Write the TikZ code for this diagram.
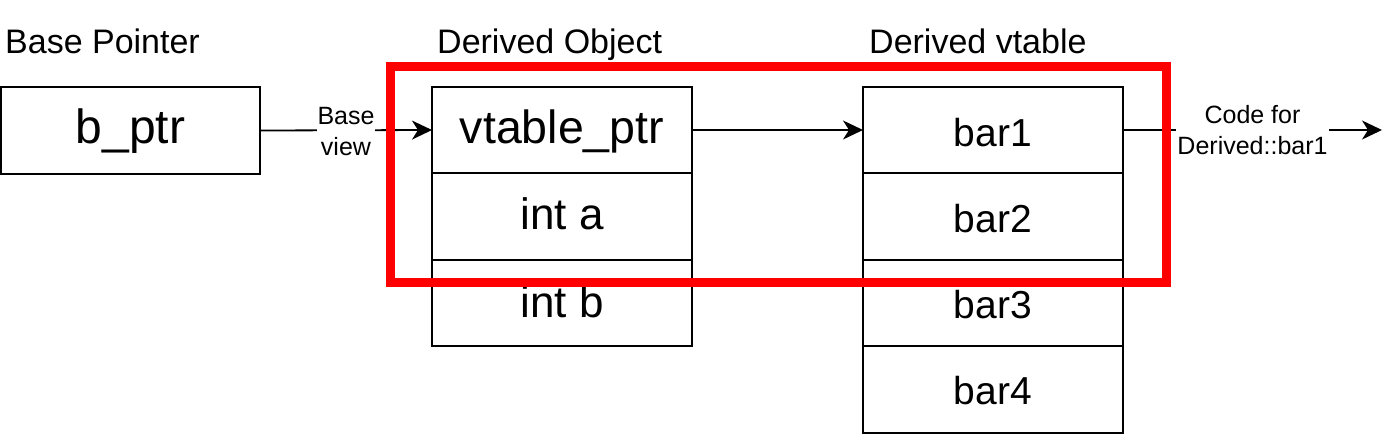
\documentclass[tikz,border=0pt]{standalone}
\usepackage{fontspec}
\setmainfont{Liberation Sans}
\usetikzlibrary{arrows.meta}
\begin{document}
\begin{tikzpicture}[x=1pt,y=-1pt,
  cell/.style={draw=black, line width=2.2pt, rectangle, inner sep=0pt, outer sep=0pt,
    minimum width=260pt, minimum height=86.5pt, text depth=0pt},
  objtxt/.style={cell, font=\fontsize{44}{52}\selectfont, text height=26pt},
  bartxt/.style={cell, font=\fontsize{39}{46}\selectfont, text height=32pt},
  title/.style={anchor=base west, inner sep=0pt, font=\fontsize{34}{40}\selectfont},
  lab/.style={fill=white, align=center, inner sep=1pt, font=\fontsize{25}{31}\selectfont},
  conn/.style={draw=black, line width=1.8pt, -{Stealth[length=20pt,width=19pt,inset=6pt]}},
  highlight/.style={draw=red, line width=9pt}
]
\useasboundingbox (0,0) rectangle (1400,434);

% titles
\node[title] (tbase) at (5,53) {Base Pointer};
\node[title] (tobj) at (437,53) {Derived Object};
\node[title] (tvt) at (869,53) {Derived vtable};

% base pointer
\node[objtxt, font=\fontsize{48}{56}\selectfont, minimum width=258.8pt, minimum height=87pt, text height=25pt] (bptr) at (130.6,130.5) {b\_ptr};

% derived object
\node[objtxt, font=\fontsize{46.5}{54}\selectfont] (vptr) at (562,130) {vtable\_ptr};
\node[objtxt] (inta) at (562,216.5) {int a};
\node[objtxt, text height=28pt] (intb) at (562,303) {int b};

% derived vtable
\node[bartxt, text height=33pt] (bar1) at (993,130) {bar1};
\node[bartxt] (bar2) at (993,216.5) {bar2};
\node[bartxt, text height=30pt] (bar3) at (993,303) {bar3};
\node[bartxt, text height=30pt] (bar4) at (993,389.5) {bar4};

\coordinate (codeend) at (1382,130);

% connectors
\draw[conn] (bptr.east) -- node[lab, yshift=-1.5pt] (lbase) {Base\\view} (vptr.west);
\draw[conn] (vptr.east) -- (bar1.west);
\draw[conn] (bar1.east) -- node[lab] (lcode) {Code for\\Derived::bar1} (codeend);

% highlight
\draw[highlight] (390,66) rectangle (1166,282);
\end{tikzpicture}
\end{document}
